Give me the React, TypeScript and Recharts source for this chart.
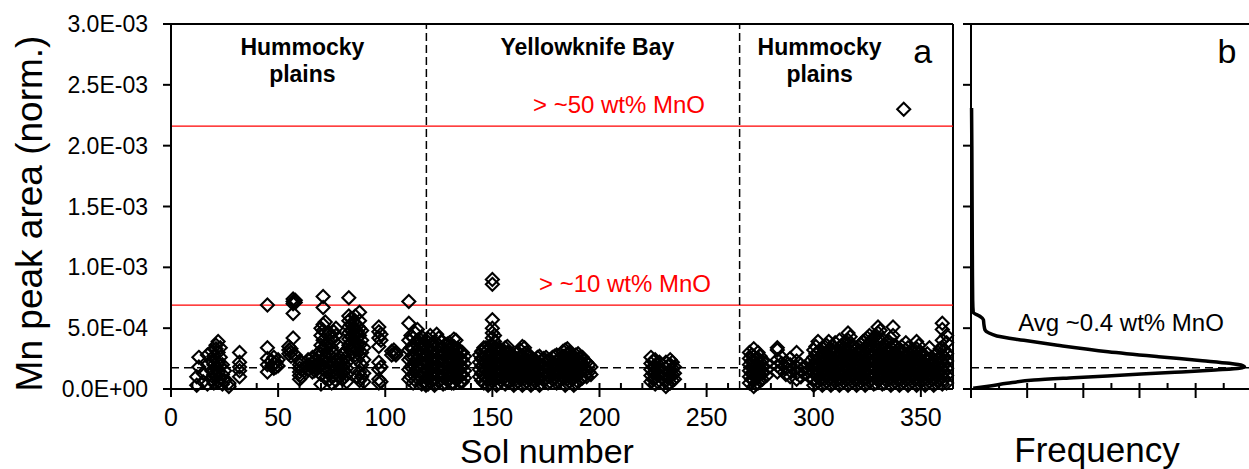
import React from "react";
import { ScatterChart, Scatter, XAxis, YAxis, ReferenceLine } from "recharts";

// Mn peak area values are stored in units of 1E-04
const hummocky1: [number, number[]][] = [
  [12, [0.3, 1.0]],
  [13, [1.8, 2.6]],
  [15, [0.6, 1.3]],
  [17, [0.4, 2.0, 2.8]],
  [19, [0.8, 1.5, 2.3, 3.1]],
  [20, [0.5, 1.2, 2.0, 2.7]],
  [21, [1.0, 1.7, 3.3, 3.6]],
  [22, [0.6, 1.4, 2.2, 3.0, 3.9]],
  [23, [0.9, 1.9, 2.6, 3.4]],
  [24, [0.4, 1.2, 2.0]],
  [25, [0.7, 1.5]],
  [27, [0.2, 0.5]],
  [32, [1.0, 1.5, 1.8, 2.2, 3.0]],
  [45, [1.4, 2.0, 2.5, 3.4, 6.9]],
  [47, [1.9, 2.3]],
  [48, [1.7, 2.1, 2.6]],
  [49, [1.8, 2.2]],
  [50, [1.9, 2.4]],
  [55, [2.9, 3.2, 3.5]],
  [56, [2.7, 3.0, 3.3]],
  [57, [4.2, 6.2, 7.0, 7.2, 7.4]],
  [58, [2.8, 7.1, 7.3]],
  [60, [0.8, 1.1, 1.4, 1.7, 2.0, 2.3]],
  [61, [1.0, 1.6, 2.2]],
  [64, [1.6, 2.0, 2.4]],
  [66, [1.4, 1.8, 2.2, 2.6]],
  [67, [1.5, 1.9, 2.3]],
  [68, [1.6, 2.0, 2.4, 2.8]],
  [69, [1.8, 2.6, 3.0]],
  [70, [0.4, 1.2, 2.0, 2.9, 3.6, 4.4, 5.0]],
  [71, [1.6, 2.4, 3.3, 4.0, 4.8, 5.3, 6.7, 7.6]],
  [72, [0.9, 1.8, 2.7, 3.5, 4.6, 5.5]],
  [73, [1.4, 2.2, 3.0, 3.8]],
  [74, [0.8, 1.8, 2.8, 3.6, 4.6]],
  [75, [0.5, 1.0, 2.6, 3.4, 4.2]],
  [76, [1.1, 2.0, 3.0, 3.9, 4.7]],
  [77, [0.7, 1.6, 2.4, 4.4, 5.0]],
  [78, [1.2, 2.0, 3.6]],
  [79, [1.0, 1.6, 2.1, 2.6]],
  [80, [0.8, 1.3, 1.8, 2.3, 2.8]],
  [81, [1.0, 1.5, 2.0, 2.5, 3.0]],
  [82, [0.6, 1.2, 1.7, 2.2]],
  [83, [3.6, 4.1, 4.6, 5.1, 5.6, 6.0, 7.5]],
  [84, [3.3, 3.8, 4.3, 4.8, 5.3, 5.8]],
  [85, [3.0, 3.5, 4.0, 4.5, 5.0, 5.5]],
  [86, [2.8, 3.4, 3.9, 4.4, 4.9, 5.4, 6.0]],
  [87, [1.0, 2.4, 3.2, 3.7, 4.2, 4.7, 5.2]],
  [88, [0.7, 1.4, 2.8, 3.6, 4.4, 5.0, 5.6, 6.3]],
  [89, [1.0, 2.0, 3.0, 4.0, 4.8]],
  [90, [0.6, 1.3, 2.4, 3.4]],
  [97, [0.5, 0.8, 1.6, 2.2, 3.5, 4.2, 4.7, 5.1]],
  [98, [0.6, 1.8, 4.0, 4.5]],
  [103, [2.8, 3.1]],
  [104, [2.9, 3.2]],
  [105, [2.8, 3.0]],
  [111, [0.8, 1.6, 2.4, 3.2, 4.0, 5.4, 7.2]],
  [112, [1.0, 1.8, 2.6, 3.4, 4.4]],
  [113, [0.5, 1.2, 2.0, 2.7, 3.4, 4.2]],
  [114, [0.7, 1.5, 2.3, 3.0, 3.8, 4.6]],
  [115, [0.9, 1.7, 2.5, 3.2, 4.0, 4.9]],
  [116, [1.1, 1.9, 2.7, 3.4, 4.1]],
  [117, [0.4, 1.3, 2.1, 2.9, 3.6, 4.3]],
];

const yellowknife: [number, number[]][] = [
  [118, [0.6, 1.2, 1.8, 2.4, 3.0, 3.6]],
  [119, [0.3, 0.9, 1.5, 2.1, 2.7, 3.3, 4.0]],
  [120, [0.4, 1.0, 1.6, 2.2, 2.8, 3.4, 4.1]],
  [121, [0.6, 1.2, 1.8, 2.4, 3.0, 3.6, 4.4]],
  [122, [0.7, 1.3, 1.9, 2.5, 3.1, 3.8]],
  [123, [0.3, 0.9, 1.5, 2.1, 2.7, 3.3, 3.9]],
  [124, [0.5, 1.1, 1.7, 2.3, 2.9, 3.5, 4.5]],
  [125, [0.6, 1.2, 1.8, 2.4, 3.0, 3.6, 4.2]],
  [126, [0.8, 1.4, 2.0, 2.6, 3.2, 3.9]],
  [127, [0.4, 1.0, 1.6, 2.2, 2.8, 3.4]],
  [128, [0.5, 1.1, 1.7, 2.3, 2.9, 3.6]],
  [129, [0.7, 1.3, 1.9, 2.5, 3.1, 3.7]],
  [130, [0.8, 1.4, 2.0, 2.6, 3.2, 3.8]],
  [131, [0.5, 1.1, 1.7, 2.3, 2.9, 3.5]],
  [132, [0.5, 1.1, 1.7, 2.3, 2.9, 3.5, 4.1]],
  [133, [0.8, 1.4, 2.0, 2.6, 3.2, 4.0]],
  [134, [0.9, 1.5, 2.1, 2.7, 3.3]],
  [135, [0.6, 1.2, 1.8, 2.4, 3.0]],
  [136, [0.6, 1.2, 1.8, 2.4, 3.0]],
  [137, [0.9, 1.5, 2.1, 2.7]],
  [144, [1.0, 1.6, 2.2, 2.8]],
  [145, [0.7, 1.3, 1.9, 2.5, 3.1]],
  [146, [0.5, 1.1, 1.7, 2.3, 2.9, 3.4]],
  [147, [0.9, 1.5, 2.1, 2.7, 3.4]],
  [148, [0.3, 0.8, 1.4, 2.0, 2.6, 3.2]],
  [149, [0.5, 1.1, 1.7, 2.3, 2.9, 3.5]],
  [150, [0.6, 1.2, 1.8, 2.4, 3.0, 3.6, 4.2, 4.6, 5.0, 5.7, 8.6, 9.0]],
  [151, [0.9, 1.5, 2.1, 2.7, 3.3, 3.9, 4.4]],
  [152, [0.3, 0.9, 1.5, 2.1, 2.7, 3.3]],
  [153, [0.5, 1.1, 1.7, 2.3, 2.9, 3.4]],
  [154, [0.7, 1.3, 1.9, 2.5, 3.1]],
  [155, [0.9, 1.5, 2.1, 2.7, 3.2]],
  [156, [0.4, 1.0, 1.6, 2.2, 2.8, 3.4]],
  [157, [0.6, 1.2, 1.8, 2.4, 3.0, 3.5]],
  [158, [0.6, 1.2, 1.8, 2.4, 3.0]],
  [159, [0.9, 1.5, 2.1, 2.7]],
  [160, [0.3, 0.9, 1.5, 2.1, 2.7]],
  [161, [0.5, 1.1, 1.7, 2.3, 2.9]],
  [162, [0.6, 1.2, 1.8, 2.4, 3.0]],
  [163, [0.9, 1.5, 2.1, 2.7, 3.2]],
  [164, [0.3, 0.9, 1.5, 2.1, 2.7, 3.5]],
  [165, [0.5, 1.1, 1.7, 2.3, 2.9, 3.4]],
  [166, [0.6, 1.2, 1.8, 2.4, 3.0]],
  [167, [0.9, 1.5, 2.1, 2.7]],
  [168, [0.3, 0.9, 1.5, 2.1, 2.6]],
  [169, [0.5, 1.1, 1.7, 2.3]],
  [170, [0.6, 1.2, 1.8, 2.4]],
  [171, [0.9, 1.5, 2.1, 2.6]],
  [172, [0.3, 0.9, 1.5, 2.1, 2.7]],
  [173, [0.5, 1.1, 1.7, 2.3]],
  [174, [0.7, 1.3, 1.9, 2.5]],
  [175, [0.9, 1.5, 2.1, 2.6]],
  [176, [0.5, 1.1, 1.7, 2.3]],
  [177, [0.6, 1.2, 1.8, 2.4]],
  [178, [0.8, 1.4, 2.0, 2.6]],
  [179, [0.9, 1.5, 2.1, 2.7]],
  [180, [0.5, 1.1, 1.7, 2.3, 2.8]],
  [181, [0.6, 1.2, 1.8, 2.4]],
  [182, [0.8, 1.4, 2.0, 2.6]],
  [183, [0.9, 1.5, 2.1, 2.7, 3.1]],
  [184, [0.3, 0.9, 1.5, 2.1, 2.7, 3.2]],
  [185, [0.5, 1.1, 1.7, 2.3, 2.9, 3.3]],
  [186, [0.6, 1.2, 1.8, 2.4, 3.0]],
  [187, [0.9, 1.5, 2.1, 2.7]],
  [188, [0.3, 0.9, 1.5, 2.1, 2.7]],
  [189, [0.5, 1.1, 1.7, 2.3, 2.8]],
  [190, [0.6, 1.2, 1.8, 2.4, 2.9]],
  [191, [0.8, 1.4, 2.0, 2.6]],
  [192, [0.9, 1.5, 2.1, 2.6]],
  [193, [1.1, 1.7, 2.3]],
  [194, [1.0, 1.6, 2.2]],
  [195, [1.4, 2.0]],
  [196, [1.2, 1.8]],
  [224, [0.6, 1.1, 1.6, 2.1, 2.6]],
  [225, [0.8, 1.3, 1.8, 2.3]],
  [226, [0.4, 0.9, 1.4, 1.9, 2.4]],
  [227, [0.6, 1.1, 1.6, 2.1]],
  [228, [0.7, 1.2, 1.7, 2.2]],
  [231, [0.2, 0.7, 1.2, 1.7, 2.2]],
  [232, [0.4, 0.9, 1.4, 1.9]],
  [233, [0.5, 1.0, 1.5, 2.0, 2.4]],
  [234, [0.7, 1.2, 1.7, 2.2]],
  [235, [0.8, 1.3, 1.8]],
];

const hummocky2: [number, number[]][] = [
  [270, [0.5, 1.0, 1.5, 2.0, 2.5, 3.0]],
  [271, [0.8, 1.3, 1.8, 2.3, 2.8]],
  [272, [0.2, 0.7, 1.2, 1.7, 2.2, 2.7, 3.3]],
  [273, [0.4, 0.9, 1.4, 1.9, 2.4]],
  [274, [0.5, 1.0, 1.5, 2.0, 2.5, 3.0]],
  [275, [0.7, 1.2, 1.7, 2.2, 2.7]],
  [276, [0.8, 1.3, 1.8, 2.3]],
  [278, [1.1, 1.6, 2.1]],
  [283, [1.4, 1.9, 2.4, 3.2, 3.4]],
  [285, [1.6, 2.1, 2.6]],
  [287, [1.2, 1.7, 2.2]],
  [289, [1.0, 1.5, 2.0, 2.5]],
  [292, [0.8, 1.3, 1.8, 2.3, 3.0]],
  [294, [1.0, 1.5, 2.0]],
  [296, [1.3, 1.8]],
  [298, [1.0, 1.6, 2.2]],
  [300, [0.3, 0.8, 1.4, 2.0, 2.6, 3.2]],
  [301, [0.5, 1.1, 1.7, 2.3, 2.9, 3.5]],
  [302, [0.6, 1.2, 1.8, 2.4, 3.0, 3.9]],
  [303, [0.8, 1.4, 2.0, 2.6, 3.2]],
  [304, [0.3, 0.9, 1.5, 2.1, 2.7, 3.4]],
  [305, [0.5, 1.1, 1.7, 2.3, 2.9, 3.5]],
  [306, [0.6, 1.2, 1.8, 2.4, 3.0, 3.6]],
  [307, [0.8, 1.4, 2.0, 2.6, 3.2, 3.9]],
  [308, [0.3, 0.9, 1.5, 2.1, 2.7, 3.3]],
  [309, [0.5, 1.1, 1.7, 2.3, 2.9, 3.5]],
  [310, [0.6, 1.2, 1.8, 2.4, 3.0, 3.8]],
  [311, [0.8, 1.4, 2.0, 2.6, 3.2]],
  [312, [0.3, 0.9, 1.5, 2.1, 2.7, 3.4, 4.0]],
  [313, [0.5, 1.1, 1.7, 2.3, 2.9, 3.6]],
  [314, [0.6, 1.2, 1.8, 2.4, 3.0, 3.7]],
  [315, [0.8, 1.4, 2.0, 2.6, 3.2, 3.9]],
  [316, [0.3, 0.9, 1.5, 2.1, 2.7, 3.3, 4.0, 4.6]],
  [317, [0.5, 1.1, 1.7, 2.3, 2.9, 3.5, 4.3]],
  [318, [0.6, 1.2, 1.8, 2.4, 3.0, 3.6]],
  [319, [0.8, 1.4, 2.0, 2.6, 3.2]],
  [320, [0.3, 0.9, 1.5, 2.1, 2.7, 3.3]],
  [321, [0.5, 1.1, 1.7, 2.3, 2.9, 3.5]],
  [322, [0.6, 1.2, 1.8, 2.4, 3.0, 3.7]],
  [323, [0.8, 1.4, 2.0, 2.6, 3.2, 3.9]],
  [324, [0.3, 0.9, 1.5, 2.1, 2.7, 3.4, 4.0]],
  [325, [0.5, 1.1, 1.7, 2.3, 2.9, 3.5, 4.2]],
  [326, [0.6, 1.2, 1.8, 2.4, 3.0, 3.7, 4.4]],
  [327, [0.8, 1.4, 2.0, 2.6, 3.3, 4.0]],
  [328, [0.4, 1.0, 1.6, 2.2, 2.8, 3.5, 4.2]],
  [329, [0.5, 1.1, 1.7, 2.3, 2.9, 3.6, 4.4]],
  [330, [0.7, 1.3, 1.9, 2.5, 3.2, 3.9, 4.6, 5.1]],
  [331, [0.8, 1.4, 2.0, 2.6, 3.3, 4.0, 4.8]],
  [332, [0.4, 1.0, 1.6, 2.2, 2.8, 3.5, 4.1]],
  [333, [0.5, 1.1, 1.7, 2.3, 2.9, 3.6]],
  [334, [0.7, 1.3, 1.9, 2.5, 3.1, 3.8]],
  [335, [0.8, 1.4, 2.0, 2.6, 3.2, 3.9]],
  [336, [0.3, 0.9, 1.5, 2.1, 2.7, 3.4, 4.2]],
  [337, [0.5, 1.1, 1.7, 2.3, 2.9, 3.6, 4.4, 5.1]],
  [338, [0.6, 1.2, 1.8, 2.4, 3.0, 3.6]],
  [339, [0.8, 1.4, 2.0, 2.6, 3.2]],
  [340, [0.3, 0.9, 1.5, 2.1, 2.7, 3.3]],
  [341, [0.5, 1.1, 1.7, 2.3, 2.9, 3.5]],
  [342, [0.6, 1.2, 1.8, 2.4, 3.0, 23.0]],
  [343, [0.8, 1.4, 2.0, 2.6, 3.2, 3.8]],
  [344, [0.3, 0.9, 1.5, 2.1, 2.7, 3.4]],
  [345, [0.5, 1.1, 1.7, 2.3, 2.9]],
  [346, [0.6, 1.2, 1.8, 2.4, 3.0]],
  [347, [0.8, 1.4, 2.0, 2.6, 3.2]],
  [348, [0.3, 0.9, 1.5, 2.1, 2.7, 3.3, 3.9]],
  [349, [0.5, 1.1, 1.7, 2.3, 2.9, 3.6]],
  [350, [0.6, 1.2, 1.8, 2.4, 3.0]],
  [351, [0.8, 1.4, 2.0, 2.6]],
  [352, [0.3, 0.9, 1.5, 2.1, 2.7]],
  [353, [0.5, 1.1, 1.7, 2.3, 2.9]],
  [354, [0.6, 1.2, 1.8, 2.4, 3.4]],
  [355, [0.8, 1.4, 2.0, 2.6]],
  [356, [0.3, 0.9, 1.5, 2.1]],
  [357, [0.5, 1.1, 1.7, 2.3, 2.8]],
  [358, [0.6, 1.2, 1.8, 2.4, 3.0]],
  [359, [0.8, 1.4, 2.0, 2.6, 3.3]],
  [360, [0.4, 1.0, 1.6, 2.2, 2.8, 3.4, 4.0, 4.9, 5.4]],
  [361, [0.8, 1.4, 2.0, 2.6, 3.2]],
  [362, [0.5, 1.1, 1.7, 2.3, 2.9, 3.8, 4.4]],
];

// frequency distribution (panel b), listed from the top of the curve down
const freqMn = [23.1, 20, 15, 10, 7.3, 6.3, 6.0, 5.7, 5.3, 4.85, 4.6, 4.36, 4.0, 3.6, 3.07, 2.66, 2.33, 2.11, 1.92, 1.83, 1.7, 1.56, 1.37, 1.15, 0.93, 0.74, 0.47, 0.25, 0.06];
const freqCount = [0.1, 0.15, 0.2, 0.25, 0.3, 0.4, 1.5, 2.2, 2.3, 2.5, 3.2, 4.6, 9.4, 15.4, 24.4, 33.4, 41.2, 46.0, 48.4, 48.7, 47.8, 43.5, 36.3, 27.3, 18.3, 11.2, 6.4, 3.4, 0.4];

const solTicks = [0, 10, 20, 30, 40, 50, 60, 70, 80, 90, 100, 110, 120, 130, 140, 150, 160, 170, 180, 190, 200, 210, 220, 230, 240, 250, 260, 270, 280, 290, 300, 310, 320, 330, 340, 350, 360];
const mnTicks = [0, 5, 10, 15, 20, 25, 30];
const mnTickLabels = ["0.0E+00", "5.0E-04", "1.0E-03", "1.5E-03", "2.0E-03", "2.5E-03", "3.0E-03"];
const freqTicks = [0, 5, 10, 15, 20, 25, 30, 35, 40, 45];

const unitBoundaries = [119.2, 265.4];
const mnoThresholds = [21.6, 6.9];
const avgMn = 1.75;

const FONT = '"Liberation Sans", Arial, sans-serif';

const points = [...hummocky1, ...yellowknife, ...hummocky2].flatMap(([sol, vals]) =>
  vals.map((v) => ({ sol, v }))
);
const curve = freqMn.map((v, i) => ({ f: freqCount[i], v }));

const Diamond = (props: any) => {
  const { cx, cy } = props;
  if (cx == null || cy == null) return null;
  const r = 6.5;
  return (
    <path
      d={`M${cx},${cy - r}L${cx + r},${cy}L${cx},${cy + r}L${cx - r},${cy}Z`}
      fill="none"
      stroke="#000"
      strokeWidth={2.1}
    />
  );
};

const SolTick = ({ x, y, payload }: any) => {
  const major = payload.value % 50 === 0;
  return (
    <g>
      <line x1={x} x2={x} y1={y - 6} y2={major ? y + 8 : y} stroke="#000" strokeWidth={2} />
      {major && (
        <text x={x} y={y + 37} textAnchor="middle" fontSize={25} fontFamily={FONT} fill="#000">
          {payload.value}
        </text>
      )}
    </g>
  );
};

const MnTick = ({ x, y, payload }: any) => (
  <g>
    <line x1={x - 8} x2={x} y1={y} y2={y} stroke="#000" strokeWidth={2} />
    <text x={x - 23} y={y + 8} textAnchor="end" fontSize={23} fontFamily={FONT} fill="#000">
      {mnTickLabels[mnTicks.indexOf(payload.value)]}
    </text>
  </g>
);

const FreqTick = ({ x, y, payload }: any) => {
  const major = payload.value % 10 === 0;
  return <line x1={x} x2={x} y1={y - 6} y2={major ? y + 9 : y} stroke="#000" strokeWidth={2} />;
};

const SideTick = ({ x, y }: any) => <line x1={x - 8} x2={x} y1={y} y2={y} stroke="#000" strokeWidth={2} />;

const bold = { fontSize: 23, fontWeight: 700, fontFamily: FONT, fill: "#000" } as const;
const red = { fontSize: 24, fontFamily: FONT, fill: "#ff0000" } as const;

const App = () => {
  return (
    <div style={{ position: "absolute", left: 0, top: 0, width: 1249, height: 469, background: "#fff" }}>
      <div style={{ position: "absolute", left: 0, top: 0 }}>
        <ScatterChart width={960} height={469} margin={{ top: 24, right: 7, left: 0, bottom: 0 }}>
          <XAxis
            dataKey="sol"
            type="number"
            domain={[0, 365]}
            ticks={solTicks}
            interval={0}
            height={80}
            tickSize={0}
            tickMargin={0}
            tickLine={false}
            tick={<SolTick />}
            axisLine={{ stroke: "#000", strokeWidth: 2 }}
            label={(p: any) => (
              <text x={p.viewBox.x + p.viewBox.width / 2 - 15} y={p.viewBox.y + 73.5} textAnchor="middle" fontSize={34} fontFamily={FONT}>
                Sol number
              </text>
            )}
          />
          <YAxis
            dataKey="v"
            type="number"
            domain={[0, 30]}
            ticks={mnTicks}
            interval={0}
            width={171}
            tickSize={0}
            tickMargin={0}
            tickLine={false}
            tick={<MnTick />}
            axisLine={{ stroke: "#000", strokeWidth: 2 }}
            label={(p: any) => {
              const cy = p.viewBox.y + p.viewBox.height / 2 + 7;
              return (
                <text x={42} y={cy} transform={`rotate(-90, 42, ${cy})`} textAnchor="middle" fontSize={37} fontFamily={FONT}>
                  Mn peak area (norm.)
                </text>
              );
            }}
          />
          <ReferenceLine y={30} stroke="#000" strokeWidth={2} />
          <ReferenceLine x={365} stroke="#000" strokeWidth={2} />
          <ReferenceLine
            y={mnoThresholds[0]}
            stroke="#ff0000"
            strokeWidth={1.2}
            label={(p: any) => (
              <text x={p.viewBox.x + 448} y={p.viewBox.y - 13} textAnchor="middle" {...red}>
                {"> ~50 wt% MnO"}
              </text>
            )}
          />
          <ReferenceLine
            y={mnoThresholds[1]}
            stroke="#ff0000"
            strokeWidth={1.2}
            label={(p: any) => (
              <text x={p.viewBox.x + 454} y={p.viewBox.y - 13} textAnchor="middle" {...red}>
                {"> ~10 wt% MnO"}
              </text>
            )}
          />
          <ReferenceLine y={avgMn} stroke="#000" strokeWidth={1.5} strokeDasharray="8 5" />
          <ReferenceLine
            x={unitBoundaries[0]}
            stroke="#000"
            strokeWidth={1.5}
            strokeDasharray="8 4"
            label={(p: any) => (
              <g>
                <text x={p.viewBox.x - 124} y={p.viewBox.y + 31} textAnchor="middle" {...bold}>Hummocky</text>
                <text x={p.viewBox.x - 124} y={p.viewBox.y + 58} textAnchor="middle" {...bold}>plains</text>
                <text x={p.viewBox.x + 161} y={p.viewBox.y + 31} textAnchor="middle" {...bold}>Yellowknife Bay</text>
              </g>
            )}
          />
          <ReferenceLine
            x={unitBoundaries[1]}
            stroke="#000"
            strokeWidth={1.5}
            strokeDasharray="8 4"
            label={(p: any) => (
              <g>
                <text x={p.viewBox.x + 80} y={p.viewBox.y + 31} textAnchor="middle" {...bold}>Hummocky</text>
                <text x={p.viewBox.x + 80} y={p.viewBox.y + 58} textAnchor="middle" {...bold}>plains</text>
                <text x={p.viewBox.x + 183} y={p.viewBox.y + 39} textAnchor="middle" fontSize={34} fontFamily={FONT}>a</text>
              </g>
            )}
          />
          <Scatter data={points} shape={<Diamond />} isAnimationActive={false} />
        </ScatterChart>
      </div>
      <div style={{ position: "absolute", left: 960, top: 0 }}>
        <ScatterChart width={289} height={469} margin={{ top: 24, right: 0, left: 0, bottom: 0 }}>
          <XAxis
            dataKey="f"
            type="number"
            domain={[0, 49.5]}
            ticks={freqTicks}
            interval={0}
            height={80}
            tickSize={0}
            tickMargin={0}
            tickLine={false}
            tick={<FreqTick />}
            axisLine={{ stroke: "#000", strokeWidth: 2 }}
            label={(p: any) => (
              <text x={p.viewBox.x + p.viewBox.width / 2 - 13} y={p.viewBox.y + 73} textAnchor="middle" fontSize={35} fontFamily={FONT}>
                Frequency
              </text>
            )}
          />
          <YAxis
            dataKey="v"
            type="number"
            domain={[0, 30]}
            ticks={mnTicks}
            interval={0}
            width={11}
            tickSize={0}
            tickMargin={0}
            tickLine={false}
            tick={<SideTick />}
            axisLine={{ stroke: "#000", strokeWidth: 2 }}
          />
          <ReferenceLine y={30} stroke="#000" strokeWidth={2} />
          <ReferenceLine
            y={avgMn}
            stroke="#000"
            strokeWidth={1.5}
            strokeDasharray="8 5"
            label={(p: any) => (
              <text x={p.viewBox.x + 150} y={p.viewBox.y - 37} textAnchor="middle" fontSize={24} fontFamily={FONT}>
                Avg ~0.4 wt% MnO
              </text>
            )}
          />
          <ReferenceLine
            y={30}
            stroke="none"
            label={(p: any) => (
              <text x={p.viewBox.x + 256} y={p.viewBox.y + 39} textAnchor="middle" fontSize={34} fontFamily={FONT}>b</text>
            )}
          />
          <Scatter
            data={curve}
            line={{ stroke: "#000", strokeWidth: 3.5 }}
            lineJointType="monotoneY"
            shape={() => <g />}
            isAnimationActive={false}
          />
        </ScatterChart>
      </div>
    </div>
  );
};

export default App;
